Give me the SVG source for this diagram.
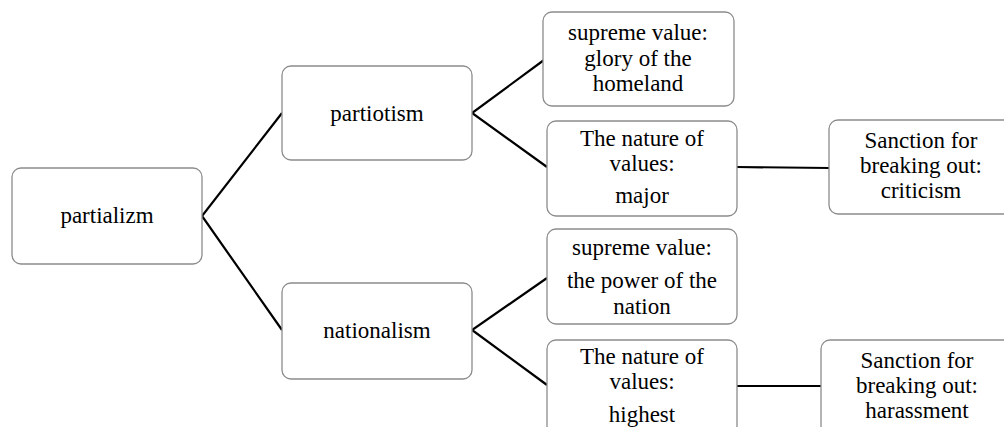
<svg xmlns="http://www.w3.org/2000/svg" width="1004" height="427" viewBox="0 0 1004 427">
<style>
.box{fill:#fff;stroke:#8c8c8c;stroke-width:1.3}
.c{stroke:#000;stroke-width:2.2;fill:none}
</style>
<rect width="1004" height="427" fill="#fff"/>
<g id="connectors">
<polyline class="c" points="282,113 202,216 282,330"/>
<polyline class="c" points="544,60 472,113 547,167"/>
<polyline class="c" points="547,278 472,330 547,385"/>
<line class="c" x1="737" y1="167" x2="829" y2="168"/>
<line class="c" x1="737" y1="386" x2="821" y2="386"/>
</g>
<g id="partializm">
<rect class="box" x="12" y="168" width="190" height="96" rx="9"/>
<text x="107" y="223" font-size="23" font-family="Liberation Serif, serif" text-anchor="middle">partializm</text>
</g>
<g id="partiotism">
<rect class="box" x="282" y="66" width="190" height="94" rx="9"/>
<text x="377" y="121" font-size="23" font-family="Liberation Serif, serif" text-anchor="middle">partiotism</text>
</g>
<g id="nationalism">
<rect class="box" x="282" y="283" width="190" height="96" rx="9"/>
<text x="377" y="338" font-size="23" font-family="Liberation Serif, serif" text-anchor="middle">nationalism</text>
</g>
<g id="supreme1">
<rect class="box" x="543" y="12" width="191" height="94" rx="9"/>
<text x="638" y="40" font-size="23" font-family="Liberation Serif, serif" text-anchor="middle">supreme value:</text>
<text x="638" y="66" font-size="23" font-family="Liberation Serif, serif" text-anchor="middle">glory of the</text>
<text x="638" y="91" font-size="23" font-family="Liberation Serif, serif" text-anchor="middle">homeland</text>
</g>
<g id="nature1">
<rect class="box" x="547" y="121" width="190" height="95" rx="9"/>
<text x="642" y="146" font-size="23" font-family="Liberation Serif, serif" text-anchor="middle">The nature of</text>
<text x="642" y="171" font-size="23" font-family="Liberation Serif, serif" text-anchor="middle">values:</text>
<text x="642" y="203" font-size="23" font-family="Liberation Serif, serif" text-anchor="middle">major</text>
</g>
<g id="sanction1">
<rect class="box" x="829" y="120" width="184" height="94" rx="9"/>
<text x="921" y="148" font-size="23" font-family="Liberation Serif, serif" text-anchor="middle">Sanction for</text>
<text x="921" y="173" font-size="23" font-family="Liberation Serif, serif" text-anchor="middle">breaking out:</text>
<text x="921" y="198" font-size="23" font-family="Liberation Serif, serif" text-anchor="middle">criticism</text>
</g>
<g id="supreme2">
<rect class="box" x="547" y="229" width="190" height="95" rx="9"/>
<text x="642" y="255" font-size="23" font-family="Liberation Serif, serif" text-anchor="middle">supreme value:</text>
<text x="642" y="288" font-size="23" font-family="Liberation Serif, serif" text-anchor="middle">the power of the</text>
<text x="642" y="314" font-size="23" font-family="Liberation Serif, serif" text-anchor="middle">nation</text>
</g>
<g id="nature2">
<rect class="box" x="547" y="340" width="190" height="95" rx="9"/>
<text x="642" y="364" font-size="23" font-family="Liberation Serif, serif" text-anchor="middle">The nature of</text>
<text x="642" y="389" font-size="23" font-family="Liberation Serif, serif" text-anchor="middle">values:</text>
<text x="642" y="422" font-size="23" font-family="Liberation Serif, serif" text-anchor="middle">highest</text>
</g>
<g id="sanction2">
<rect class="box" x="821" y="340" width="192" height="95" rx="9"/>
<text x="917" y="368" font-size="23" font-family="Liberation Serif, serif" text-anchor="middle">Sanction for</text>
<text x="917" y="393" font-size="23" font-family="Liberation Serif, serif" text-anchor="middle">breaking out:</text>
<text x="917" y="418" font-size="23" font-family="Liberation Serif, serif" text-anchor="middle">harassment</text>
</g>
</svg>
